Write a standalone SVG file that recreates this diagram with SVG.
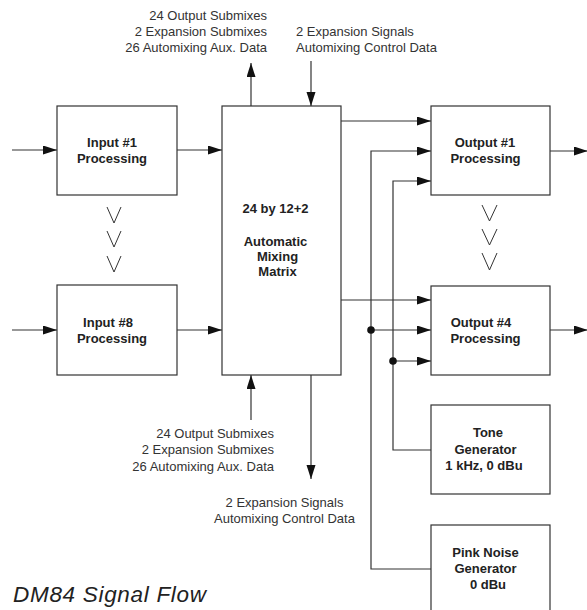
<svg xmlns="http://www.w3.org/2000/svg" width="587" height="610" viewBox="0 0 587 610">
<style>
.box{fill:#fff;stroke:#333;stroke-width:1.2}
.ln{fill:none;stroke:#333;stroke-width:1.2}
.arr{marker-end:url(#ah)}
.lbl{font-family:"Liberation Sans",Arial,sans-serif;font-size:13px;font-weight:bold;fill:#222;text-anchor:middle}
.note{font-family:"Liberation Sans",Arial,sans-serif;font-size:13px;fill:#333}
.chev{fill:none;stroke:#333;stroke-width:1}
</style>
<defs>
<marker id="ah" markerUnits="userSpaceOnUse" markerWidth="15" markerHeight="10" refX="14" refY="4.5" orient="auto">
<path d="M0,0 L14,4.5 L0,9 z" fill="#111"/>
</marker>
</defs>
<rect width="587" height="610" fill="#fff"/>
<g id="connectors">
<line class="ln arr" x1="12" y1="150" x2="57" y2="150"/>
<line class="ln arr" x1="177" y1="150" x2="222" y2="150"/>
<line class="ln arr" x1="12" y1="330" x2="57" y2="330"/>
<line class="ln arr" x1="177" y1="330" x2="222" y2="330"/>
<line class="ln arr" x1="251" y1="106" x2="251" y2="63"/>
<line class="ln arr" x1="311" y1="61" x2="311" y2="106"/>
<line class="ln arr" x1="251" y1="420" x2="251" y2="375"/>
<line class="ln arr" x1="311" y1="375" x2="311" y2="479"/>
<line class="ln arr" x1="341" y1="121" x2="431" y2="121"/>
<line class="ln arr" x1="341" y1="300" x2="431" y2="300"/>
<path class="ln arr" d="M431,569 H371 V151 H431"/>
<path class="ln arr" d="M431,450 H393 V181 H431"/>
<line class="ln arr" x1="371" y1="330" x2="431" y2="330"/>
<line class="ln arr" x1="393" y1="361" x2="431" y2="361"/>
<circle cx="371" cy="330" r="3.8" fill="#111"/>
<circle cx="393" cy="361" r="3.8" fill="#111"/>
<line class="ln arr" x1="550" y1="151" x2="588" y2="151"/>
<line class="ln arr" x1="550" y1="330" x2="588" y2="330"/>
</g>
<g id="chevrons-in">
<path class="chev" d="M107,207 L114,223 L121,207"/>
<path class="chev" d="M107,231 L114,247 L121,231"/>
<path class="chev" d="M107,256 L114,272 L121,256"/>
</g>
<g id="chevrons-out">
<path class="chev" d="M482,205 L489.5,221 L497,205"/>
<path class="chev" d="M482,229 L489.5,245 L497,229"/>
<path class="chev" d="M482,253 L489.5,270 L497,253"/>
</g>
<g id="input1">
<rect class="box" x="57" y="106" width="120" height="89"/>
<text class="lbl" x="112" y="147">Input #1</text>
<text class="lbl" x="112" y="163">Processing</text>
</g>
<g id="input8">
<rect class="box" x="57" y="285" width="120" height="90"/>
<text class="lbl" x="108" y="327">Input #8</text>
<text class="lbl" x="112" y="343">Processing</text>
</g>
<g id="matrix">
<rect class="box" x="222" y="106" width="119" height="269"/>
<text class="lbl" x="275.5" y="213">24 by 12+2</text>
<text class="lbl" x="275.5" y="246">Automatic</text>
<text class="lbl" x="277.5" y="261">Mixing</text>
<text class="lbl" x="277.5" y="276">Matrix</text>
</g>
<g id="output1">
<rect class="box" x="431" y="106" width="119" height="89"/>
<text class="lbl" x="485" y="147">Output #1</text>
<text class="lbl" x="485.5" y="163">Processing</text>
</g>
<g id="output4">
<rect class="box" x="431" y="286" width="119" height="89"/>
<text class="lbl" x="481" y="327">Output #4</text>
<text class="lbl" x="485.5" y="343">Processing</text>
</g>
<g id="tone">
<rect class="box" x="431" y="405" width="119" height="89"/>
<text class="lbl" x="488" y="437">Tone</text>
<text class="lbl" x="485.5" y="454">Generator</text>
<text class="lbl" x="484" y="470">1 kHz, 0 dBu</text>
</g>
<g id="pinknoise">
<rect class="box" x="431" y="525" width="119" height="100"/>
<text class="lbl" x="485.5" y="557">Pink Noise</text>
<text class="lbl" x="485.5" y="573">Generator</text>
<text class="lbl" x="488" y="589">0 dBu</text>
</g>
<g id="labels">
<text class="note" x="267" y="20" text-anchor="end">24 Output Submixes</text>
<text class="note" x="267" y="36" text-anchor="end">2 Expansion Submixes</text>
<text class="note" x="267" y="52" text-anchor="end">26 Automixing Aux. Data</text>
<text class="note" x="296" y="36">2 Expansion Signals</text>
<text class="note" x="296" y="52">Automixing Control Data</text>
<text class="note" x="274" y="438" text-anchor="end">24 Output Submixes</text>
<text class="note" x="274" y="454" text-anchor="end">2 Expansion Submixes</text>
<text class="note" x="274" y="471" text-anchor="end">26 Automixing Aux. Data</text>
<text class="note" x="284.5" y="507" text-anchor="middle">2 Expansion Signals</text>
<text class="note" x="284.5" y="523" text-anchor="middle">Automixing Control Data</text>
<text x="13" y="602" font-family="'Liberation Sans',Arial,sans-serif" font-style="italic" font-size="22.5" fill="#222" textLength="193" lengthAdjust="spacing">DM84 Signal Flow</text>
</g>
</svg>
